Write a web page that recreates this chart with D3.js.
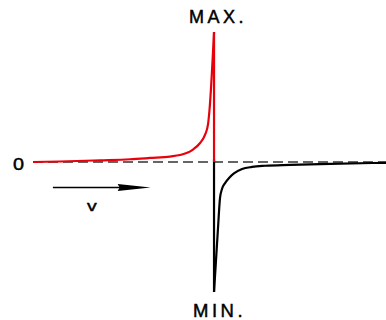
<!DOCTYPE html>
<html>
<head>
<meta charset="utf-8">
<script src="https://cdn.jsdelivr.net/npm/d3@7"></script>
<style>
  html, body { margin: 0; padding: 0; background: #fff; }
  svg { display: block; }
  text { font-family: "Liberation Sans", Arial, sans-serif; fill: #000; stroke: #000; stroke-width: 0.45px; }
</style>
</head>
<body>
<script>
// Signal before the peak (red): time and normalised amplitude
const riseT = [-10, -8.51, -6.30, -4.64, -3.54, -2.43, -1.60, -1.16, -0.77, -0.50, -0.33, -0.25, 0];
const riseV = [0, 0.004, 0.013, 0.021, 0.031, 0.042, 0.065, 0.096, 0.146, 0.208, 0.292, 0.40, 1];

// Signal after the peak (black): drop to the minimum and slow recovery
const fallT = [0, 0.11, 0.22, 0.33, 0.44, 0.61, 0.83, 1.10, 1.55, 2.10, 2.82, 4.20, 6.41, 9.5];
const fallV = [-1, -0.754, -0.508, -0.277, -0.208, -0.162, -0.123, -0.088, -0.054, -0.038, -0.029, -0.022, -0.014, -0.006];

// Labels
const peakLabels = ["MAX.", "MIN."];
const zeroLabel = "0";
const speedLabel = "v";
// Direction arrow, in data units (start t, end t, level)
const arrowT = [-8.9, -3.5];
const arrowV = [-0.196];

const W = 386, H = 320;
const x = d3.scaleLinear().domain([-10, 9.5]).range([33, 386]);
const y = d3.scaleLinear().domain([-1, 1]).range([292, 32]);

const svg = d3.select("body").append("svg").attr("width", W).attr("height", H);
svg.append("rect").attr("width", W).attr("height", H).attr("fill", "#fff");

// Zero baseline
svg.append("line")
  .attr("x1", x(-10)).attr("x2", x(9.5))
  .attr("y1", y(0)).attr("y2", y(0))
  .attr("stroke", "#333").attr("stroke-width", 1.3)
  .attr("stroke-dasharray", "10 5");

const line = d3.line().x(d => x(d[0])).y(d => y(d[1])).curve(d3.curveMonotoneX);

const rise = riseT.map((t, i) => [t, riseV[i]]);
const fall = fallT.map((t, i) => [t, fallV[i]]);

// Black part: vertical drop and recovery curve
svg.append("line")
  .attr("x1", x(0)).attr("x2", x(0))
  .attr("y1", y(0.02)).attr("y2", y(-1))
  .attr("stroke", "#000").attr("stroke-width", 2.2);
svg.append("path").datum(fall).attr("d", line)
  .attr("fill", "none").attr("stroke", "#000").attr("stroke-width", 2.2)
  .attr("stroke-linejoin", "round");

// Red part: rising curve and vertical return
svg.append("path").datum(rise).attr("d", line)
  .attr("fill", "none").attr("stroke", "#e8000b").attr("stroke-width", 2.2)
  .attr("stroke-linejoin", "round");
svg.append("line")
  .attr("x1", x(0)).attr("x2", x(0))
  .attr("y1", y(1)).attr("y2", y(0))
  .attr("stroke", "#e8000b").attr("stroke-width", 2.2);

// Peak labels
svg.append("text").text(peakLabels[0])
  .attr("x", x(0) - 25).attr("y", y(1) - 9.5)
  .style("font-size", "18px").attr("letter-spacing", 3.5);
svg.append("text").text(peakLabels[1])
  .attr("x", x(0) - 21).attr("y", y(-1) + 24.5)
  .style("font-size", "18.5px").attr("letter-spacing", 3.5);

// Zero label
svg.append("text").text(zeroLabel)
  .attr("transform", `translate(13,${y(0) + 7.5}) scale(1.2,1)`)
  .style("font-size", "16.5px");

// Direction arrow
const ay = y(arrowV[0]);
const ax0 = x(arrowT[0]), ax1 = x(arrowT[1]);
svg.append("line")
  .attr("x1", ax0).attr("x2", ax1 - 26)
  .attr("y1", ay).attr("y2", ay)
  .attr("stroke", "#000").attr("stroke-width", 1.4);
svg.append("path")
  .attr("d", `M${ax1},${ay} L${ax1 - 33},${ay - 3.6} L${ax1 - 31},${ay} L${ax1 - 33},${ay + 3.6} Z`)
  .attr("fill", "#000");

svg.append("text").text(speedLabel)
  .attr("transform", "translate(87,210.5) scale(1.3,1)")
  .style("font-size", "15px");
</script>
</body>
</html>
